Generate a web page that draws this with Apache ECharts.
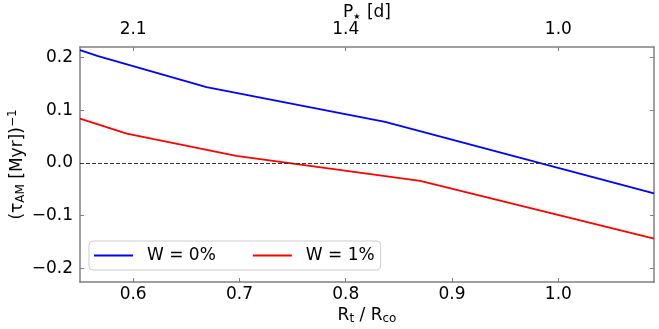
<!DOCTYPE html>
<html>
<head>
<meta charset="utf-8">
<script src="https://cdn.jsdelivr.net/npm/echarts@6/dist/echarts.min.js"></script>
<style>
  html, body { margin: 0; padding: 0; background: #fff; }
  #main { width: 659px; height: 329px; }
</style>
</head>
<body>
<div id="main"></div>
<script>
// W = 0% curve
var rtW0 = [0.55, 0.567, 0.669, 0.837, 1.09];
var tauW0 = [0.214, 0.2025, 0.144, 0.078, -0.058];
// W = 1% curve
var rtW1 = [0.55, 0.594, 0.697, 0.870, 1.09];
var tauW1 = [0.0842, 0.0558, 0.0133, -0.0342, -0.1435];

var xTicks = [0.6, 0.7, 0.8, 0.9, 1.0];
var yTicks = [-0.2, -0.1, 0.0, 0.1, 0.2];
// top axis: stellar period at a few R_t/R_co positions
var periodPos = [0.6, 0.8, 1.0];
var periodLabels = ['2.1', '1.4', '1.0'];

function zip(a, b) {
    return a.map(function (v, i) { return [v, b[i]]; });
}

var font = 'DejaVu Sans';
var spine = '#808080';

var myChart = echarts.init(document.getElementById('main'));
option = {
    animation: false,
    textStyle: { fontFamily: font },
    grid: { left: 80, right: 5, top: 47, bottom: 47, outerBoundsMode: 'none', containLabel: false },
    legend: {
        left: 89,
        top: 241,
        itemWidth: 39,
        itemHeight: 2,
        itemGap: 37,
        icon: 'rect',
        padding: [6, 6, 6, 5],
        backgroundColor: 'rgba(255,255,255,0.8)',
        borderColor: '#cccccc',
        borderWidth: 1,
        borderRadius: 4,
        textStyle: { fontFamily: font, fontSize: 17, color: '#000', padding: [0, 0, 0, 9] },
        data: ['W = 0%', 'W = 1%']
    },
    xAxis: [
        {
            type: 'value',
            position: 'bottom',
            min: 0.55,
            max: 1.09,
            name: '{n|R}{s|t}{n| / R}{s|co}',
            nameLocation: 'middle',
            nameGap: 24,
            nameMoveOverlap: false,
            nameTextStyle: {
                rich: {
                    n: { fontFamily: font, fontSize: 17, color: '#000' },
                    s: { fontFamily: font, fontSize: 12, color: '#000', padding: [7, 0, 0, 0] }
                }
            },
            axisLine: { onZero: false, lineStyle: { color: spine, width: 1.5 } },
            axisTick: { inside: true, length: 4, customValues: xTicks, lineStyle: { color: spine, width: 1 } },
            axisLabel: {
                customValues: xTicks,
                margin: 4,
                fontFamily: font,
                fontSize: 17,
                color: '#000',
                formatter: function (v) { return v.toFixed(1); }
            },
            splitLine: { show: false }
        },
        {
            type: 'value',
            position: 'top',
            min: 0.55,
            max: 1.09,
            name: '{n|P}{s|★}{n| [d]}',
            nameLocation: 'middle',
            nameGap: 26,
            nameMoveOverlap: false,
            nameTextStyle: {
                rich: {
                    n: { fontFamily: font, fontSize: 17, color: '#000' },
                    s: { fontFamily: font, fontSize: 8, color: '#000', padding: [9, 1, 0, 0] }
                }
            },
            axisLine: { onZero: false, lineStyle: { color: spine, width: 1.5 } },
            axisTick: { inside: true, length: 4, customValues: periodPos, lineStyle: { color: spine, width: 1 } },
            axisLabel: {
                customValues: periodPos,
                margin: 9,
                fontFamily: font,
                fontSize: 17,
                color: '#000',
                formatter: function (v) {
                    var i = periodPos.findIndex(function (p) { return Math.abs(p - v) < 1e-6; });
                    return i >= 0 ? periodLabels[i] : '';
                }
            },
            splitLine: { show: false }
        }
    ],
    yAxis: [
        {
            type: 'value',
            position: 'left',
            min: -0.226,
            max: 0.22,
            name: '{n|(τ}{s|AM}{n| [Myr])}{p|−1}',
            nameLocation: 'middle',
            nameRotate: 90,
            nameGap: 52,
            nameMoveOverlap: false,
            nameTextStyle: {
                rich: {
                    n: { fontFamily: font, fontSize: 17, color: '#000' },
                    s: { fontFamily: font, fontSize: 12, color: '#000', padding: [7, 0, 0, 0] },
                    p: { fontFamily: font, fontSize: 12, color: '#000', padding: [0, 0, 9, 0] }
                }
            },
            axisLine: { onZero: false, lineStyle: { color: spine, width: 1.5 } },
            axisTick: { inside: true, length: 4, customValues: yTicks, lineStyle: { color: spine, width: 1 } },
            axisLabel: {
                customValues: yTicks,
                margin: 7,
                fontFamily: font,
                fontSize: 17,
                color: '#000',
                formatter: function (v) { return v.toFixed(1).replace('-', '−'); }
            },
            splitLine: { show: false }
        },
        {
            type: 'value',
            position: 'right',
            min: -0.226,
            max: 0.22,
            axisLine: { show: true, onZero: false, lineStyle: { color: spine, width: 1.5 } },
            axisTick: { inside: true, length: 4, customValues: yTicks, lineStyle: { color: spine, width: 1 } },
            axisLabel: { show: false },
            splitLine: { show: false }
        }
    ],
    series: [
        {
            name: 'W = 0%',
            type: 'line',
            showSymbol: false,
            symbol: 'none',
            color: '#0000ff',
            lineStyle: { color: '#0000ff', width: 1.8 },
            data: zip(rtW0, tauW0),
            markLine: {
                silent: true,
                symbol: 'none',
                label: { show: false },
                lineStyle: { color: '#333', width: 1, type: [4, 2] },
                data: [{ yAxis: 0 }]
            }
        },
        {
            name: 'W = 1%',
            type: 'line',
            showSymbol: false,
            symbol: 'none',
            color: '#ff0000',
            lineStyle: { color: '#ff0000', width: 1.8 },
            data: zip(rtW1, tauW1)
        }
    ]
};
myChart.setOption(option);
</script>
</body>
</html>
